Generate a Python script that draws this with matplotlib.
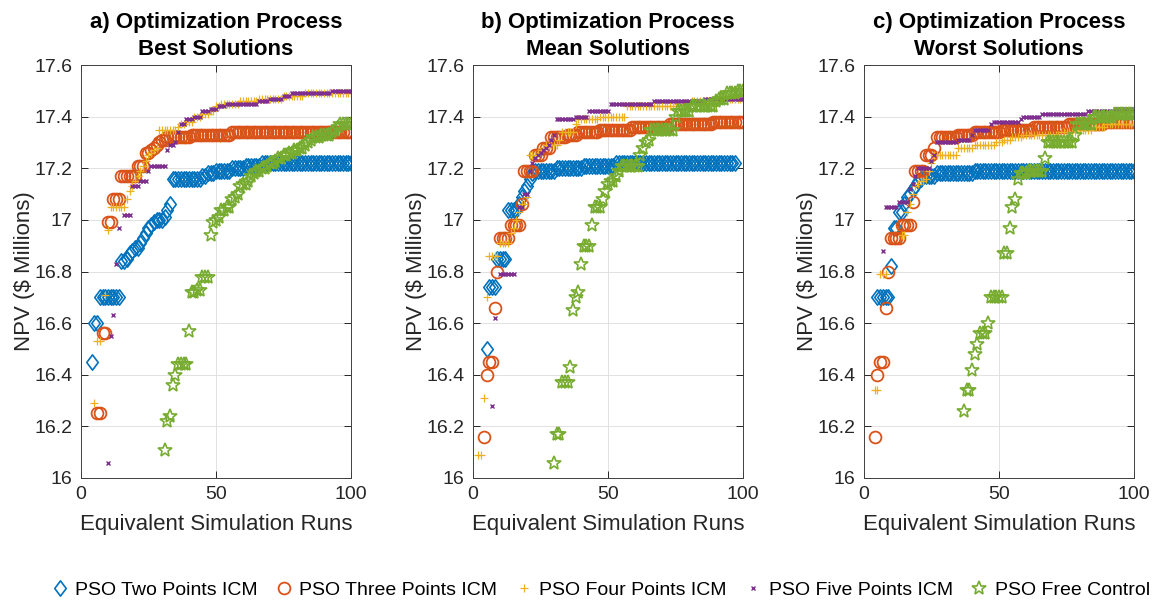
import numpy as np
import matplotlib.pyplot as plt
from matplotlib.path import Path
from matplotlib.ticker import FuncFormatter

plt.rcParams['font.family'] = ['Liberation Sans', 'DejaVu Sans']

# each curve is a list of (first run, last run, NPV in $ millions) stretches

# a) best solutions
best_two = [(4, 4, 16.45), (5, 6, 16.60), (7, 14, 16.70), (15, 16, 16.84), (17, 17, 16.85),
            (18, 18, 16.87), (19, 19, 16.88), (20, 21, 16.89), (22, 22, 16.91), (23, 23, 16.93),
            (24, 24, 16.95), (25, 25, 16.97), (26, 26, 16.98), (27, 27, 16.99), (28, 30, 17.00),
            (31, 31, 17.01), (32, 32, 17.04), (33, 33, 17.06), (34, 44, 17.16), (45, 46, 17.17),
            (47, 49, 17.18), (50, 55, 17.19), (56, 60, 17.20), (61, 66, 17.21), (67, 100, 17.22)]
best_three = [(6, 7, 16.25), (8, 9, 16.56), (10, 11, 16.99), (12, 14, 17.08), (15, 20, 17.17),
              (21, 23, 17.21), (24, 25, 17.26), (26, 26, 17.27), (27, 27, 17.28), (28, 28, 17.29),
              (29, 29, 17.30), (30, 31, 17.31), (32, 40, 17.32), (41, 55, 17.33), (56, 100, 17.34)]
best_four = [(5, 5, 16.29), (6, 7, 16.53), (9, 9, 16.71), (10, 10, 16.96), (11, 16, 17.05),
             (17, 17, 17.08), (18, 18, 17.11), (19, 19, 17.13), (20, 20, 17.15), (21, 21, 17.17),
             (22, 22, 17.19), (23, 23, 17.21), (24, 24, 17.23), (25, 25, 17.25), (26, 26, 17.26),
             (27, 27, 17.27), (28, 28, 17.28), (29, 35, 17.35), (36, 36, 17.36), (37, 38, 17.37),
             (39, 41, 17.38), (42, 44, 17.40), (45, 47, 17.41), (48, 49, 17.42), (50, 51, 17.44),
             (52, 58, 17.45), (59, 65, 17.46), (66, 74, 17.47), (75, 82, 17.48), (83, 100, 17.49)]
best_five = [(10, 10, 16.06), (11, 11, 16.55), (12, 12, 16.63), (13, 13, 16.83), (14, 14, 16.97),
             (16, 18, 17.02), (19, 21, 17.13), (22, 24, 17.15), (25, 25, 17.19), (26, 31, 17.21),
             (32, 32, 17.27), (33, 34, 17.29), (35, 35, 17.30), (36, 36, 17.34), (37, 38, 17.37),
             (39, 41, 17.39), (42, 44, 17.40), (45, 47, 17.42), (48, 50, 17.43), (51, 53, 17.44),
             (54, 65, 17.45), (66, 69, 17.46), (70, 74, 17.47), (75, 77, 17.48), (78, 92, 17.49),
             (93, 100, 17.50)]
best_free = [(31, 31, 16.11), (32, 32, 16.22), (33, 33, 16.24), (34, 34, 16.36), (35, 35, 16.40),
             (36, 39, 16.44), (40, 40, 16.57), (41, 42, 16.72), (43, 44, 16.73), (45, 47, 16.78),
             (48, 48, 16.94), (49, 49, 16.99), (50, 50, 17.00), (51, 51, 17.01), (52, 53, 17.04),
             (54, 55, 17.05), (56, 56, 17.08), (57, 57, 17.09), (58, 58, 17.10), (59, 59, 17.13),
             (60, 61, 17.14), (62, 62, 17.15), (63, 63, 17.17), (64, 64, 17.18), (65, 66, 17.19),
             (67, 68, 17.20), (69, 69, 17.21), (70, 71, 17.22), (72, 72, 17.23), (73, 74, 17.24),
             (75, 76, 17.25), (77, 78, 17.26), (79, 80, 17.27), (81, 82, 17.28), (83, 83, 17.29),
             (84, 84, 17.30), (85, 85, 17.31), (86, 88, 17.32), (89, 92, 17.33), (93, 93, 17.34),
             (94, 94, 17.35), (95, 95, 17.36), (96, 100, 17.37)]

# b) mean solutions
mean_two = [(5, 5, 16.50), (6, 8, 16.74), (9, 12, 16.85), (13, 16, 17.04), (17, 17, 17.06),
            (18, 18, 17.09), (19, 19, 17.11), (20, 20, 17.13), (21, 21, 17.16), (22, 22, 17.18),
            (23, 30, 17.19), (31, 40, 17.20), (41, 52, 17.21), (53, 97, 17.22)]
mean_three = [(4, 4, 16.16), (5, 5, 16.40), (6, 7, 16.45), (8, 8, 16.66), (9, 9, 16.80),
              (10, 13, 16.93), (14, 17, 16.98), (18, 18, 17.06), (19, 22, 17.19), (23, 25, 17.25),
              (26, 28, 17.28), (29, 34, 17.32), (35, 38, 17.33), (39, 46, 17.34), (47, 58, 17.35),
              (59, 72, 17.36), (73, 88, 17.37), (89, 100, 17.38)]
mean_four = [(2, 3, 16.09), (4, 4, 16.31), (5, 5, 16.70), (6, 9, 16.86), (10, 13, 16.91),
             (14, 14, 16.95), (15, 15, 16.97), (16, 16, 17.00), (17, 17, 17.03), (18, 19, 17.06),
             (20, 20, 17.09), (21, 23, 17.25), (24, 24, 17.26), (25, 25, 17.27), (26, 26, 17.28),
             (27, 31, 17.29), (32, 32, 17.31), (33, 37, 17.34), (38, 38, 17.37), (39, 46, 17.39),
             (47, 56, 17.40), (57, 75, 17.44), (76, 80, 17.45), (81, 90, 17.46), (91, 100, 17.47)]
mean_five = [(7, 7, 16.28), (8, 8, 16.62), (10, 15, 16.79), (17, 18, 17.05), (19, 20, 17.10),
             (21, 21, 17.19), (22, 22, 17.22), (23, 23, 17.24), (24, 24, 17.25), (25, 25, 17.26),
             (26, 26, 17.27), (27, 27, 17.28), (28, 28, 17.29), (29, 29, 17.31), (30, 30, 17.33),
             (31, 37, 17.39), (38, 42, 17.40), (43, 50, 17.42), (51, 66, 17.45), (67, 85, 17.46),
             (86, 100, 17.47)]
mean_free = [(30, 30, 16.06), (31, 32, 16.17), (33, 35, 16.37), (36, 36, 16.43), (37, 37, 16.65),
             (38, 38, 16.70), (39, 39, 16.72), (40, 40, 16.83), (41, 43, 16.90), (44, 44, 16.98),
             (45, 47, 17.05), (48, 48, 17.08), (49, 49, 17.11), (50, 50, 17.14), (51, 52, 17.15),
             (53, 53, 17.17), (54, 54, 17.19), (55, 61, 17.21), (62, 62, 17.25), (63, 63, 17.28),
             (64, 64, 17.30), (65, 65, 17.31), (66, 74, 17.35), (75, 75, 17.40), (76, 80, 17.42),
             (81, 89, 17.44), (90, 90, 17.46), (91, 93, 17.47), (94, 97, 17.49), (98, 100, 17.50)]

# c) worst solutions
worst_two = [(5, 9, 16.70), (10, 10, 16.82), (11, 12, 16.97), (13, 14, 17.03), (15, 15, 17.06),
             (16, 16, 17.09), (17, 17, 17.10), (18, 18, 17.12), (19, 19, 17.13), (20, 20, 17.15),
             (21, 21, 17.16), (22, 26, 17.17), (27, 40, 17.18), (41, 100, 17.19)]
worst_three = [(4, 4, 16.16), (5, 5, 16.40), (6, 7, 16.45), (8, 8, 16.66), (9, 9, 16.80),
               (10, 13, 16.93), (14, 17, 16.98), (18, 18, 17.07), (19, 22, 17.19), (23, 25, 17.25),
               (26, 26, 17.28), (27, 34, 17.32), (35, 40, 17.33), (41, 50, 17.34), (51, 62, 17.35),
               (63, 75, 17.36), (76, 88, 17.37), (89, 100, 17.38)]
worst_four = [(4, 5, 16.34), (6, 8, 16.79), (14, 15, 16.94), (16, 16, 17.03), (17, 17, 17.06),
              (18, 18, 17.10), (19, 19, 17.13), (20, 20, 17.14), (21, 22, 17.15), (23, 23, 17.16),
              (24, 24, 17.19), (25, 25, 17.22), (26, 34, 17.25), (35, 40, 17.28), (41, 48, 17.29),
              (49, 51, 17.30), (52, 54, 17.31), (55, 58, 17.32), (59, 72, 17.33), (73, 78, 17.34),
              (79, 84, 17.35), (85, 89, 17.36), (90, 100, 17.37)]
worst_five = [(7, 7, 16.88), (8, 12, 17.05), (13, 16, 17.07), (17, 17, 17.12), (18, 18, 17.14),
              (19, 19, 17.17), (20, 24, 17.20), (25, 25, 17.23), (26, 26, 17.25), (27, 34, 17.30),
              (35, 39, 17.31), (40, 40, 17.33), (41, 46, 17.35), (47, 47, 17.37), (48, 57, 17.38),
              (58, 58, 17.39), (59, 65, 17.40), (66, 82, 17.41), (83, 92, 17.42), (93, 100, 17.43)]
worst_free = [(37, 37, 16.26), (38, 39, 16.34), (40, 40, 16.42), (41, 41, 16.48), (42, 42, 16.52),
              (43, 45, 16.56), (46, 46, 16.60), (47, 51, 16.70), (52, 53, 16.87), (54, 54, 16.97),
              (55, 55, 17.05), (56, 56, 17.08), (57, 57, 17.16), (58, 60, 17.18), (61, 66, 17.19),
              (67, 67, 17.24), (68, 77, 17.30), (78, 78, 17.33), (79, 84, 17.37), (85, 92, 17.40),
              (93, 100, 17.41)]

titles = ['a) Optimization Process\nBest Solutions',
          'b) Optimization Process\nMean Solutions',
          'c) Optimization Process\nWorst Solutions']
labels = ['PSO Two Points ICM', 'PSO Three Points ICM', 'PSO Four Points ICM',
          'PSO Five Points ICM', 'PSO Free Control']
panels = [[best_two, best_three, best_four, best_five, best_free],
          [mean_two, mean_three, mean_four, mean_five, mean_free],
          [worst_two, worst_three, worst_four, worst_five, worst_free]]

# matlab default line colours
colors = ['#0072BD', '#D95319', '#EDB120', '#7E2F8E', '#77AC30']
diamond = Path([(0, 1), (0.75, 0), (0, -1), (-0.75, 0), (0, 1)],
               [Path.MOVETO, Path.LINETO, Path.LINETO, Path.LINETO, Path.CLOSEPOLY])
styles = [dict(marker=diamond, ms=11, mew=1.2),
          dict(marker='o', ms=8.5, mew=1.3),
          dict(marker='+', ms=6, mew=0.9),
          dict(marker='x', ms=3.5, mew=1.0),
          dict(marker='*', ms=10, mew=1.2)]


def expand(steps):
    xs, ys = [], []
    for first, last, npv in steps:
        for run in range(first, last + 1):
            xs.append(run)
            ys.append(npv)
    return np.array(xs), np.array(ys)


dark = '#262626'
fig = plt.figure(figsize=(11.6, 6.02), dpi=100)
lefts = [0.0698, 0.4078, 0.7448]
handles = []
for i, left in enumerate(lefts):
    ax = fig.add_axes([left, 0.206, 0.2328, 0.686])
    for k, steps in enumerate(panels[i]):
        x, y = expand(steps)
        h, = ax.plot(x, y, ls='none', color=colors[k], mfc='none', mec=colors[k],
                     label=labels[k], **styles[k])
        if i == 0:
            handles.append(h)
    ax.set_xlim(0, 100)
    ax.set_ylim(16, 17.6)
    ax.set_xticks([0, 50, 100])
    ax.set_yticks(np.arange(16, 17.61, 0.2))
    ax.yaxis.set_major_formatter(FuncFormatter(lambda v, p: '%g' % round(v, 1)))
    ax.grid(True, color='#dcdcdc', lw=0.6)
    ax.set_axisbelow(True)
    ax.tick_params(direction='in', top=True, right=True, length=5, width=0.7,
                   color=dark, labelcolor=dark, labelsize=14, pad=6)
    for s in ax.spines.values():
        s.set_color('#404040')
        s.set_linewidth(0.7)
    ax.set_title(titles[i], fontsize=16, fontweight='bold', color='black', pad=7,
                 linespacing=1.4)
    ax.set_xlabel('Equivalent Simulation Runs', fontsize=16, color=dark, labelpad=8)
    ax.set_ylabel(r'NPV (\$ Millions)', fontsize=16, color=dark, labelpad=0)

fig.legend(handles, labels, loc='center', bbox_to_anchor=(0.517, 0.02), ncol=5,
           frameon=False, fontsize=14.0, handletextpad=0.3, columnspacing=0.85,
           handlelength=1.0, labelcolor='black')

fig.savefig('out.png', dpi=100, facecolor='white')
